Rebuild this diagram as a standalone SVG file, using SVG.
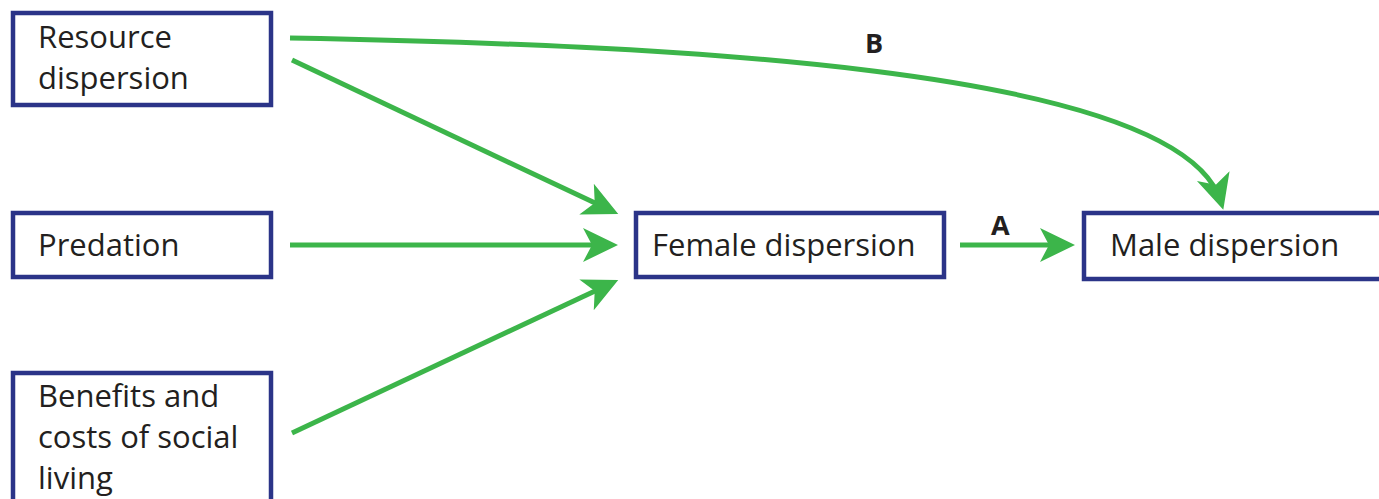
<svg xmlns="http://www.w3.org/2000/svg" width="1379" height="499" viewBox="0 0 1379 499">
<style>
.box{fill:#fff;stroke:#2b3488;stroke-width:4.5}
.t{font-family:"Open Sans","Noto Sans","Liberation Sans",sans-serif;font-size:31px;fill:#231f20}
.lbl{font-family:"Open Sans","Noto Sans","Liberation Sans",sans-serif;font-size:27px;font-weight:bold;fill:#231f20}
.c{fill:none;stroke:#3cb54a;stroke-width:5}
</style>
<defs>
<marker id="ah" viewBox="-30 -18 40 36" refX="0" refY="0" markerWidth="40" markerHeight="36" markerUnits="userSpaceOnUse" orient="auto" overflow="visible">
<path d="M8,0 L-27,-17 L-18,0 L-27,17 Z" fill="#3cb54a"/>
</marker>
</defs>
<rect width="1379" height="499" fill="#fff"/>
<g id="connectors">
<path class="c" d="M292,60 L611,210.6" marker-end="url(#ah)"/>
<path class="c" d="M290,245 L610,245" marker-end="url(#ah)"/>
<path class="c" d="M292,433 L611,283.4" marker-end="url(#ah)"/>
<path class="c" d="M960,245 L1067,245" marker-end="url(#ah)"/>
<path class="c" d="M290,38 C650,45 1180,65 1221,202" marker-end="url(#ah)"/>
<text class="lbl" x="991" y="235">A</text>
<text class="lbl" x="865" y="53">B</text>
</g>
<g id="resource"><rect class="box" x="13" y="13" width="258" height="92"/>
<text class="t" x="38" y="48">Resource</text><text class="t" x="38" y="89">dispersion</text></g>
<g id="predation"><rect class="box" x="13" y="213" width="258" height="64"/>
<text class="t" x="38" y="256">Predation</text></g>
<g id="benefits"><rect class="box" x="13" y="373" width="258" height="130"/>
<text class="t" x="38" y="407">Benefits and</text><text class="t" x="38" y="448">costs of social</text><text class="t" x="38" y="489">living</text></g>
<g id="female"><rect class="box" x="636" y="213" width="308" height="64"/>
<text class="t" x="652" y="256">Female dispersion</text></g>
<g id="male"><rect class="box" x="1084" y="213" width="300" height="66"/>
<text class="t" x="1110" y="256">Male dispersion</text></g>
</svg>
